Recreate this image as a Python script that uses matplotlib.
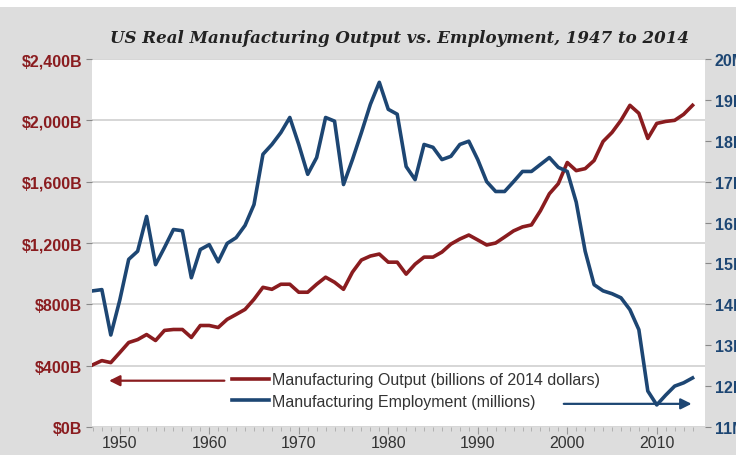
import numpy as np
import matplotlib.pyplot as plt
from matplotlib.patches import Rectangle

years = list(range(1947, 2015))

# real manufacturing output, billions of 2014 dollars
output = [406, 433, 420, 485, 551, 570, 603, 564, 630, 636,
          636, 584, 662, 662, 649, 702, 734, 767, 833, 911,
          898, 931, 931, 879, 879, 931, 977, 944, 898, 1010,
          1089, 1115, 1128, 1075, 1075, 997, 1062, 1108, 1108, 1141,
          1193, 1226, 1252, 1220, 1187, 1200, 1239, 1279, 1305, 1318,
          1410, 1521, 1587, 1725, 1672, 1685, 1738, 1862, 1921, 2000,
          2098, 2046, 1882, 1980, 1993, 2000, 2039, 2098]

# manufacturing employment, millions
employment = [14.33, 14.36, 13.25, 14.10, 15.10, 15.30, 16.15, 14.97, 15.39, 15.83,
              15.80, 14.65, 15.34, 15.46, 15.04, 15.49, 15.63, 15.93, 16.44, 17.67,
              17.91, 18.20, 18.57, 17.91, 17.18, 17.59, 18.57, 18.48, 16.93, 17.54,
              18.20, 18.89, 19.43, 18.77, 18.65, 17.37, 17.05, 17.91, 17.84, 17.54,
              17.62, 17.91, 17.99, 17.54, 17.00, 16.76, 16.76, 17.00, 17.25, 17.25,
              17.42, 17.59, 17.35, 17.25, 16.50, 15.30, 14.48, 14.33, 14.26, 14.16,
              13.87, 13.38, 11.88, 11.54, 11.78, 12.00, 12.08, 12.20]

left_ticks = [0, 400, 800, 1200, 1600, 2000, 2400]
left_labels = ["$0B", "$400B", "$800B", "$1,200B", "$1,600B", "$2,000B", "$2,400B"]
right_ticks = list(range(11, 21))
right_labels = [f"{v}M" for v in right_ticks]
year_ticks = [1950, 1960, 1970, 1980, 1990, 2000, 2010]

title = "US Real Manufacturing Output vs. Employment, 1947 to 2014"
label_out = "Manufacturing Output (billions of 2014 dollars)"
label_emp = "Manufacturing Employment (millions)"

red = "#8a1c1f"
blue = "#1d4673"
bg = "#dddddd"

fig = plt.figure(figsize=(7.36, 4.56), dpi=100, facecolor=bg)
fig.patches.append(Rectangle((0, 0.982), 1, 0.02, transform=fig.transFigure,
                             facecolor="white", edgecolor="none", zorder=0))

ax = fig.add_axes([0.125, 0.0614, 0.833, 0.807])
ax2 = ax.twinx()

ax.set_facecolor("white")
for a in (ax, ax2):
    for s in a.spines.values():
        s.set_visible(False)

ax.set_ylim(0, 2400)
ax.set_yticks(left_ticks)
ax.set_yticklabels(left_labels, color=red, fontweight="bold", fontsize=11.5,
                   family="Liberation Sans")
ax.yaxis.grid(True, color="#d6d6d6", linewidth=1.4)
ax.set_axisbelow(True)

ax2.set_ylim(11, 20)
ax2.set_yticks(right_ticks)
ax2.set_yticklabels(right_labels, color=blue, fontweight="bold", fontsize=11.5,
                    family="Liberation Sans")

ax.set_xlim(1946.9, 2015.4)
ax.set_xticks(year_ticks)
ax.set_xticks(years, minor=True)
ax.set_xticklabels([str(y) for y in year_ticks], fontsize=11.5, color="#333333",
                   family="Liberation Sans")
ax.tick_params(axis="x", which="major", length=5, color="#999999", pad=1)
ax.tick_params(axis="x", which="minor", length=3, color="#aaaaaa")
ax.tick_params(axis="y", length=4, color="#888888", pad=3)
ax2.tick_params(axis="y", length=4, color="#888888", pad=3)

l1, = ax.plot(years, output, color=red, linewidth=2.6, solid_joinstyle="round")
l2, = ax2.plot(years, employment, color=blue, linewidth=2.6, solid_joinstyle="round")

# arrows showing which axis each series belongs to
ax.annotate("", xy=(1948.5, 302), xytext=(1962.0, 302),
            arrowprops=dict(arrowstyle="-|>", color=red, lw=1.6, mutation_scale=16))
ax.annotate("", xy=(2014.2, 151), xytext=(1999.3, 151),
            arrowprops=dict(arrowstyle="-|>", color=blue, lw=1.6, mutation_scale=16))

leg = ax.legend([l1, l2], [label_out, label_emp], loc="center left",
                bbox_to_anchor=(0.229, 0.099), frameon=False,
                prop={"family": "Liberation Sans", "size": 11.5},
                handlelength=2.3, handletextpad=0.2, labelspacing=0.4,
                borderpad=0, borderaxespad=0)
for t in leg.get_texts():
    t.set_color("#333333")

fig.text(0.543, 0.915, title, ha="center", va="center", fontsize=12,
         fontweight="bold", fontstyle="italic", family="DejaVu Serif", color="#222222")

fig.savefig("out.png", dpi=100, facecolor=bg)
